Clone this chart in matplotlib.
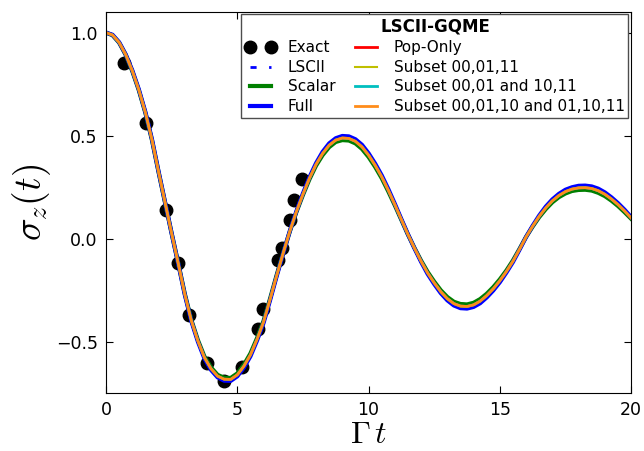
import numpy as np
import matplotlib
matplotlib.use("Agg")
import matplotlib.pyplot as plt

plt.rcParams['mathtext.fontset'] = 'cm'
plt.rcParams['font.family'] = ['DejaVu Sans']

# Time grid (Gamma t), step 0.25
t = np.arange(0, 20.001, 0.25)

# sigma_z(t)
sz_subset = [1.000, 0.988, 0.952, 0.893, 0.815, 0.722, 0.612, 0.480, 0.325, 0.175,
             0.025, -0.120, -0.270, -0.398, -0.497, -0.578, -0.632, -0.668, -0.683, -0.684,
             -0.662, -0.620, -0.565, -0.490, -0.405, -0.295, -0.180, -0.070, 0.035, 0.130,
             0.215, 0.293, 0.360, 0.413, 0.453, 0.478, 0.488, 0.486, 0.472, 0.445,
             0.405, 0.356, 0.300, 0.235, 0.165, 0.092, 0.020, -0.047, -0.110, -0.167,
             -0.215, -0.258, -0.292, -0.316, -0.328, -0.330, -0.322, -0.304, -0.277, -0.244,
             -0.205, -0.160, -0.110, -0.052, 0.008, 0.060, 0.108, 0.149, 0.183, 0.209,
             0.228, 0.240, 0.246, 0.247, 0.243, 0.232, 0.215, 0.192, 0.165, 0.134,
             0.100]
sz_full = [1.000, 0.989, 0.953, 0.894, 0.817, 0.724, 0.614, 0.482, 0.326, 0.176,
           0.025, -0.121, -0.272, -0.401, -0.501, -0.583, -0.638, -0.674, -0.690, -0.691,
           -0.669, -0.627, -0.572, -0.496, -0.410, -0.299, -0.183, -0.071, 0.036, 0.132,
           0.219, 0.298, 0.366, 0.421, 0.462, 0.487, 0.498, 0.496, 0.482, 0.455,
           0.414, 0.364, 0.307, 0.241, 0.169, 0.094, 0.021, -0.048, -0.113, -0.172,
           -0.221, -0.265, -0.300, -0.325, -0.338, -0.340, -0.332, -0.314, -0.286, -0.252,
           -0.212, -0.165, -0.114, -0.054, 0.008, 0.062, 0.112, 0.155, 0.190, 0.217,
           0.237, 0.249, 0.256, 0.257, 0.253, 0.242, 0.224, 0.200, 0.172, 0.140,
           0.104]
sz_scalar = [1.000, 0.987, 0.951, 0.892, 0.813, 0.720, 0.610, 0.478, 0.324, 0.174,
             0.025, -0.119, -0.268, -0.395, -0.493, -0.573, -0.626, -0.662, -0.676, -0.677,
             -0.655, -0.613, -0.558, -0.484, -0.400, -0.291, -0.177, -0.069, 0.034, 0.128,
             0.211, 0.288, 0.354, 0.405, 0.444, 0.469, 0.478, 0.476, 0.462, 0.435,
             0.396, 0.348, 0.293, 0.229, 0.161, 0.090, 0.019, -0.046, -0.107, -0.162,
             -0.209, -0.251, -0.284, -0.307, -0.318, -0.320, -0.312, -0.294, -0.268, -0.236,
             -0.198, -0.155, -0.106, -0.050, 0.008, 0.058, 0.104, 0.143, 0.176, 0.201,
             0.219, 0.231, 0.236, 0.237, 0.233, 0.222, 0.206, 0.184, 0.158, 0.128,
             0.096]

# Exact results
t_exact = [0.69, 1.53, 2.29, 2.73, 3.15, 3.84, 4.50, 5.17, 5.80, 5.99, 6.56, 6.69, 7.01, 7.16, 7.45]
sz_exact = [0.850, 0.560, 0.140, -0.121, -0.373, -0.605, -0.690, -0.626, -0.440, -0.344,
            -0.102, -0.045, 0.092, 0.185, 0.289]

fig = plt.figure(figsize=(6.44, 4.51), dpi=100)
ax = fig.add_axes([0.1646, 0.1286, 0.8154, 0.8448])

ax.plot(t_exact, sz_exact, 'o', color='k', markersize=9, label='Exact')
ax.plot(t, sz_scalar, linestyle=(0, (2.2, 4.5)), color='b', lw=2, label='LSCII')
ax.plot(t, sz_scalar, '-', color='g', lw=3, label='Scalar')
ax.plot(t, sz_full, '-', color='b', lw=3, label='Full')
ax.plot(t, sz_subset, '-', color='r', lw=2, label='Pop-Only')
ax.plot(t, sz_subset, '-', color=(0.75, 0.75, 0), lw=1.5, label='Subset 00,01,11')
ax.plot(t, sz_subset, '-', color=(0, 0.75, 0.75), lw=2, label='Subset 00,01 and 10,11')
ax.plot(t, sz_subset, '-', color='#ff8c1a', lw=2, label='Subset 00,01,10 and 01,10,11')

ax.set_xlim(0, 20)
ax.set_ylim(-0.75, 1.1)
ax.set_xticks([0, 5, 10, 15, 20])
ax.set_yticks([-0.5, 0.0, 0.5, 1.0])
ax.tick_params(direction='in', top=True, right=True, length=5, labelsize=12.5, pad=6)

ax.set_xlabel(r'$\Gamma\, t$', fontsize=23, labelpad=0)
ax.set_ylabel(r'$\sigma_z(t)$', fontsize=27, labelpad=2)

leg = ax.legend(loc='upper right', bbox_to_anchor=(0.995, 0.995), borderaxespad=0,
                ncol=2, numpoints=2, fontsize=11, title='LSCII-GQME',
                title_fontproperties={'weight': 'bold', 'size': 12},
                fancybox=False, edgecolor='0.3', framealpha=1,
                handlelength=2.0, columnspacing=1.0, labelspacing=0.3,
                borderpad=0.25, handletextpad=0.8)

fig.savefig('out.png', dpi=100)
